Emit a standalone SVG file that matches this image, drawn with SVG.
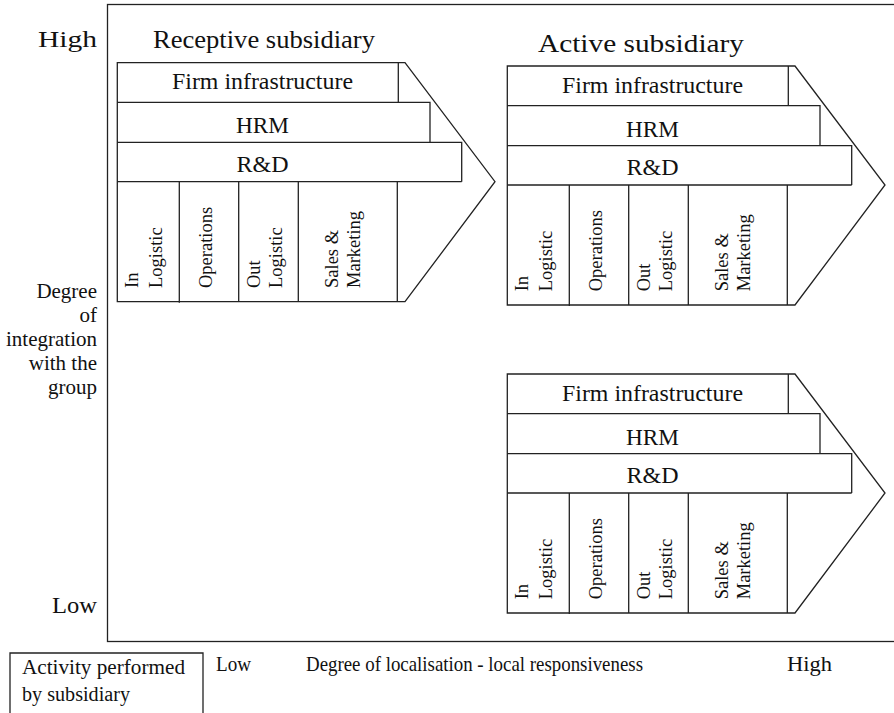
<svg xmlns="http://www.w3.org/2000/svg" width="894" height="713" viewBox="0 0 894 713">
<style>
.ln{fill:none;stroke:#222;stroke-width:1.3}
.t{font-family:"Liberation Serif","Times New Roman",serif;fill:#111}
.row{font-size:23px;text-anchor:middle}
.rot{font-size:18.5px}
.ttl{font-size:26px;text-anchor:middle}
.ax{font-size:21px}
.bt{font-size:22px}
</style>
<defs>
<g id="chain">
<path class="ln" d="M0,0 H287.7 L377.7,119 L287.7,239 H0 Z"/>
<path class="ln" d="M281,0 V39.6 M0,39.6 H312.7 V79.6 M0,79.6 H344.4 V119 M0,119 H344.4 M62,119 V240 M121.4,119 V239 M181,119 V239 M280,119 V239"/>
<text class="t row" x="145.2" y="26.6" textLength="181" lengthAdjust="spacingAndGlyphs">Firm infrastructure</text>
<text class="t row" x="145.2" y="70.6" textLength="53" lengthAdjust="spacingAndGlyphs">HRM</text>
<text class="t row" x="145.2" y="109" textLength="52" lengthAdjust="spacingAndGlyphs">R&amp;D</text>
<g class="t rot">
<text transform="translate(21,225.3) rotate(-90)">In</text>
<text transform="translate(44.7,225.3) rotate(-90)">Logistic</text>
<text transform="translate(94.2,225.3) rotate(-90)">Operations</text>
<text transform="translate(142.7,225.3) rotate(-90)">Out</text>
<text transform="translate(164.7,225.3) rotate(-90)">Logistic</text>
<text transform="translate(220.7,225.3) rotate(-90)">Sales &amp;</text>
<text transform="translate(242.7,225.3) rotate(-90)">Marketing</text>
</g>
</g>
</defs>
<rect id="frame" class="ln" x="107.5" y="4.5" width="800" height="637"/>
<g id="receptive">
<text class="t ttl" x="264" y="48" textLength="222" lengthAdjust="spacingAndGlyphs">Receptive subsidiary</text>
<use href="#chain" transform="translate(117.3,62.7)"/>
</g>
<g id="active">
<text class="t ttl" x="641" y="52" textLength="206" lengthAdjust="spacingAndGlyphs">Active subsidiary</text>
<use href="#chain" transform="translate(507.3,66)"/>
</g>
<g id="lower">
<use href="#chain" transform="translate(507.3,374)"/>
</g>
<g id="yaxis" class="t ax" text-anchor="end">
<text x="97" y="47" font-size="24" textLength="59" lengthAdjust="spacingAndGlyphs">High</text>
<text x="97" y="298">Degree</text>
<text x="97" y="322">of</text>
<text x="97" y="346">integration</text>
<text x="97" y="370">with the</text>
<text x="97" y="394">group</text>
<text x="97" y="613" font-size="24" textLength="45" lengthAdjust="spacingAndGlyphs">Low</text>
</g>
<g id="xaxis" class="t bt">
<text x="216" y="671" textLength="35" lengthAdjust="spacingAndGlyphs">Low</text>
<text x="306" y="671" textLength="337" lengthAdjust="spacingAndGlyphs">Degree of localisation - local responsiveness</text>
<text x="787" y="671" textLength="45" lengthAdjust="spacingAndGlyphs">High</text>
</g>
<g id="legend">
<path class="ln" d="M10,720 V653 H203 V720"/>
<text class="t" x="22" y="674" font-size="20" textLength="163" lengthAdjust="spacingAndGlyphs">Activity performed</text>
<text class="t" x="22" y="701" font-size="20" textLength="108" lengthAdjust="spacingAndGlyphs">by subsidiary</text>
</g>
<g id="connectors"/>
</svg>
